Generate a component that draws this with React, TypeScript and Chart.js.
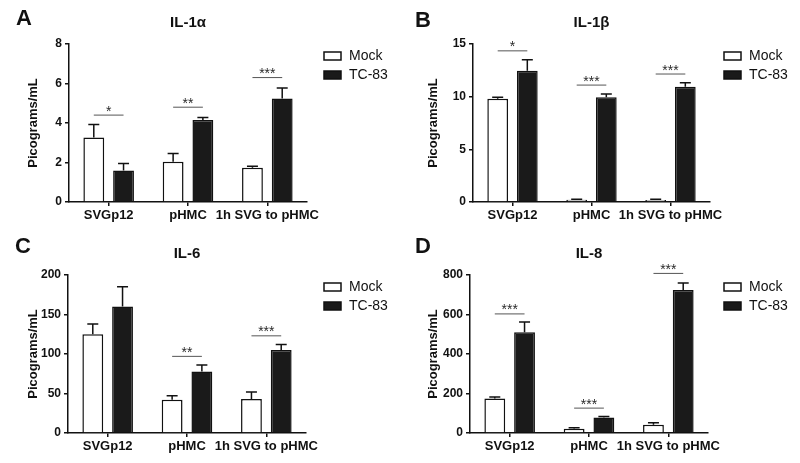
import React, { useEffect, useRef } from "react";
import { Chart, registerables } from "chart.js";

Chart.register(...registerables);

const FONT = "'Liberation Sans', Arial, Helvetica, sans-serif";
Chart.defaults.font.family = FONT;

// ---------- data ----------
const categories = ["SVGp12", "pHMC", "1h SVG to pHMC"];
const seriesNames = ["Mock", "TC-83"];
const yAxisTitle = "Picograms/mL";

// Panel A: IL-1α
const il1aMock = [3.27, 2.04, 1.73];
const il1aMockSem = [0.65, 0.42, 0.08];
const il1aTc = [1.59, 4.15, 5.24];
const il1aTcSem = [0.36, 0.13, 0.53];
const il1aSig = ["*", "**", "***"];
const il1aSigY = [4.4, 4.8, 6.3];
const il1aTicks = [0, 2, 4, 6, 8];

// Panel B: IL-1β
const il1bMock = [9.8, 0.22, 0.2];
const il1bMockSem = [0.15, 0.05, 0.05];
const il1bTc = [12.45, 9.95, 10.95];
const il1bTcSem = [1.05, 0.3, 0.38];
const il1bSig = ["*", "***", "***"];
const il1bSigY = [14.35, 11.1, 12.15];
const il1bTicks = [0, 5, 10, 15];

// Panel C: IL-6
const il6Mock = [125, 42, 43];
const il6MockSem = [13, 5, 9];
const il6Tc = [160, 78, 105];
const il6TcSem = [25, 8, 7];
const il6Sig = ["", "**", "***"];
const il6SigY = [0, 97, 123];
const il6Ticks = [0, 50, 100, 150, 200];

// Panel D: IL-8
const il8Mock = [175, 22, 42];
const il8MockSem = [7, 5, 10];
const il8Tc = [510, 78, 724];
const il8TcSem = [52, 6, 35];
const il8Sig = ["***", "***", "***"];
const il8SigY = [603, 126, 808];
const il8Ticks = [0, 200, 400, 600, 800];

// ---------- panel definitions ----------
type PanelDef = {
  letter: string;
  title: string;
  mock: number[];
  mockSem: number[];
  tc: number[];
  tcSem: number[];
  sig: string[];
  sigY: number[];
  ticks: number[];
  px: number;
  py: number;
  chartLeft: number;
  chartRight: number;
  letterX: number;
  letterY: number;
};

const panels: PanelDef[] = [
  { letter: "A", title: "IL-1α", mock: il1aMock, mockSem: il1aMockSem, tc: il1aTc, tcSem: il1aTcSem, sig: il1aSig, sigY: il1aSigY, ticks: il1aTicks, px: 0, py: 0, chartLeft: 69, chartRight: 307, letterX: 16, letterY: 7 },
  { letter: "B", title: "IL-1β", mock: il1bMock, mockSem: il1bMockSem, tc: il1bTc, tcSem: il1bTcSem, sig: il1bSig, sigY: il1bSigY, ticks: il1bTicks, px: 400, py: 0, chartLeft: 73, chartRight: 310, letterX: 15, letterY: 9 },
  { letter: "C", title: "IL-6", mock: il6Mock, mockSem: il6MockSem, tc: il6Tc, tcSem: il6TcSem, sig: il6Sig, sigY: il6SigY, ticks: il6Ticks, px: 0, py: 231, chartLeft: 68, chartRight: 306, letterX: 15, letterY: 4 },
  { letter: "D", title: "IL-8", mock: il8Mock, mockSem: il8MockSem, tc: il8Tc, tcSem: il8TcSem, sig: il8Sig, sigY: il8SigY, ticks: il8Ticks, px: 400, py: 231, chartLeft: 70, chartRight: 308, letterX: 15, letterY: 4 },
];

const INK = "#111111";

function overlayPlugin(p: PanelDef) {
  return {
    id: "overlay" + p.letter,
    afterDatasetsDraw(chart: any) {
      const ctx = chart.ctx as CanvasRenderingContext2D;
      const y = chart.scales.y;
      const sems = [p.mockSem, p.tcSem];
      // error bars (upper)
      chart.data.datasets.forEach((ds: any, di: number) => {
        const meta = chart.getDatasetMeta(di);
        meta.data.forEach((el: any, i: number) => {
          const v = ds.data[i] as number;
          const topPx = y.getPixelForValue(v + sems[di][i]);
          ctx.save();
          ctx.strokeStyle = INK;
          ctx.lineWidth = 1.5;
          ctx.beginPath();
          ctx.moveTo(el.x, el.y);
          ctx.lineTo(el.x, topPx);
          ctx.moveTo(el.x - 5.5, topPx);
          ctx.lineTo(el.x + 5.5, topPx);
          ctx.stroke();
          ctx.restore();
        });
      });
      // significance brackets
      const m0 = chart.getDatasetMeta(0);
      const m1 = chart.getDatasetMeta(1);
      p.sig.forEach((s, i) => {
        if (!s) return;
        const yy = y.getPixelForValue(p.sigY[i]);
        const x0 = m0.data[i].x;
        const x1 = m1.data[i].x;
        ctx.save();
        ctx.strokeStyle = "#555555";
        ctx.lineWidth = 1;
        ctx.beginPath();
        ctx.moveTo(x0, yy);
        ctx.lineTo(x1, yy);
        ctx.stroke();
        ctx.fillStyle = "#2a2a2a";
        ctx.font = `14px ${FONT}`;
        ctx.textAlign = "center";
        ctx.textBaseline = "alphabetic";
        ctx.fillText(s, (x0 + x1) / 2, yy + 0.5);
        ctx.restore();
      });
      // legend
      chart.data.datasets.forEach((ds: any, di: number) => {
        const bx = 324;
        const by = 52 + di * 19;
        ctx.save();
        ctx.fillStyle = ds.backgroundColor;
        ctx.fillRect(bx, by, 17, 8);
        ctx.strokeStyle = INK;
        ctx.lineWidth = 1.5;
        ctx.strokeRect(bx, by, 17, 8);
        ctx.fillStyle = INK;
        ctx.font = `14px ${FONT}`;
        ctx.textAlign = "left";
        ctx.textBaseline = "middle";
        ctx.fillText(ds.label, bx + 25, by + 4.5);
        ctx.restore();
      });
    },
  };
}

function Panel({ p }: { p: PanelDef }) {
  const ref = useRef<HTMLCanvasElement>(null);
  useEffect(() => {
    const canvas = ref.current;
    if (!canvas) return;
    const chart = new Chart(canvas, {
      type: "bar",
      data: {
        labels: categories,
        datasets: [
          {
            label: seriesNames[0],
            data: p.mock,
            backgroundColor: "#ffffff",
            borderColor: INK,
            borderWidth: 1.5,
            categoryPercentage: 0.75,
            barPercentage: 0.7,
          },
          {
            label: seriesNames[1],
            data: p.tc,
            backgroundColor: "#1a1a1a",
            borderColor: INK,
            borderWidth: 1.5,
            categoryPercentage: 0.75,
            barPercentage: 0.7,
          },
        ],
      },
      options: {
        responsive: false,
        animation: false,
        layout: { padding: { left: 0, right: 400 - p.chartRight, top: 0, bottom: 0 } },
        plugins: {
          legend: { display: false },
          tooltip: { enabled: false },
          title: {
            display: true,
            text: p.title,
            fullSize: false,
            color: INK,
            font: { size: 15, weight: "bold" },
            padding: { top: 14, bottom: 12 },
          },
        },
        scales: {
          x: {
            offset: true,
            grid: {
              offset: false,
              drawOnChartArea: false,
              drawTicks: true,
              tickLength: 4,
              color: INK,
              lineWidth: 1.5,
            },
            border: { color: INK, width: 1.5 },
            ticks: {
              color: INK,
              font: { size: 13, weight: "bold" },
              padding: 2,
              maxRotation: 0,
              autoSkip: false,
            },
            afterFit: (s: any) => {
              s.height = 29;
            },
          },
          y: {
            min: 0,
            max: p.ticks[p.ticks.length - 1],
            grid: {
              drawOnChartArea: false,
              drawTicks: true,
              tickLength: 4,
              color: INK,
              lineWidth: 1.5,
            },
            border: { color: INK, width: 1.5 },
            ticks: {
              color: INK,
              font: { size: 12, weight: "bold" },
              padding: 3,
            },
            title: {
              display: true,
              text: yAxisTitle,
              color: INK,
              font: { size: 13, weight: "bold" },
              padding: { top: 26, bottom: 0 },
            },
            afterBuildTicks: (s: any) => {
              s.ticks = p.ticks.map((v) => ({ value: v }));
            },
            afterFit: (s: any) => {
              s.width = p.chartLeft;
            },
          },
        },
      } as any,
      plugins: [overlayPlugin(p)],
    });
    return () => chart.destroy();
  }, [p]);

  return (
    <div style={{ position: "absolute", left: p.px, top: p.py, width: 400, height: 231 }}>
      <canvas ref={ref} width={400} height={231} style={{ width: 400, height: 231, display: "block" }} />
      <div
        style={{
          position: "absolute",
          left: p.letterX,
          top: p.letterY,
          fontFamily: FONT,
          fontWeight: "bold",
          fontSize: 22,
          lineHeight: "22px",
          color: INK,
        }}
      >
        {p.letter}
      </div>
    </div>
  );
}

export default function App() {
  return (
    <div style={{ position: "absolute", left: 0, top: 0, width: 800, height: 463, background: "#ffffff", overflow: "hidden" }}>
      {panels.map((p) => (
        <Panel key={p.letter} p={p} />
      ))}
    </div>
  );
}
